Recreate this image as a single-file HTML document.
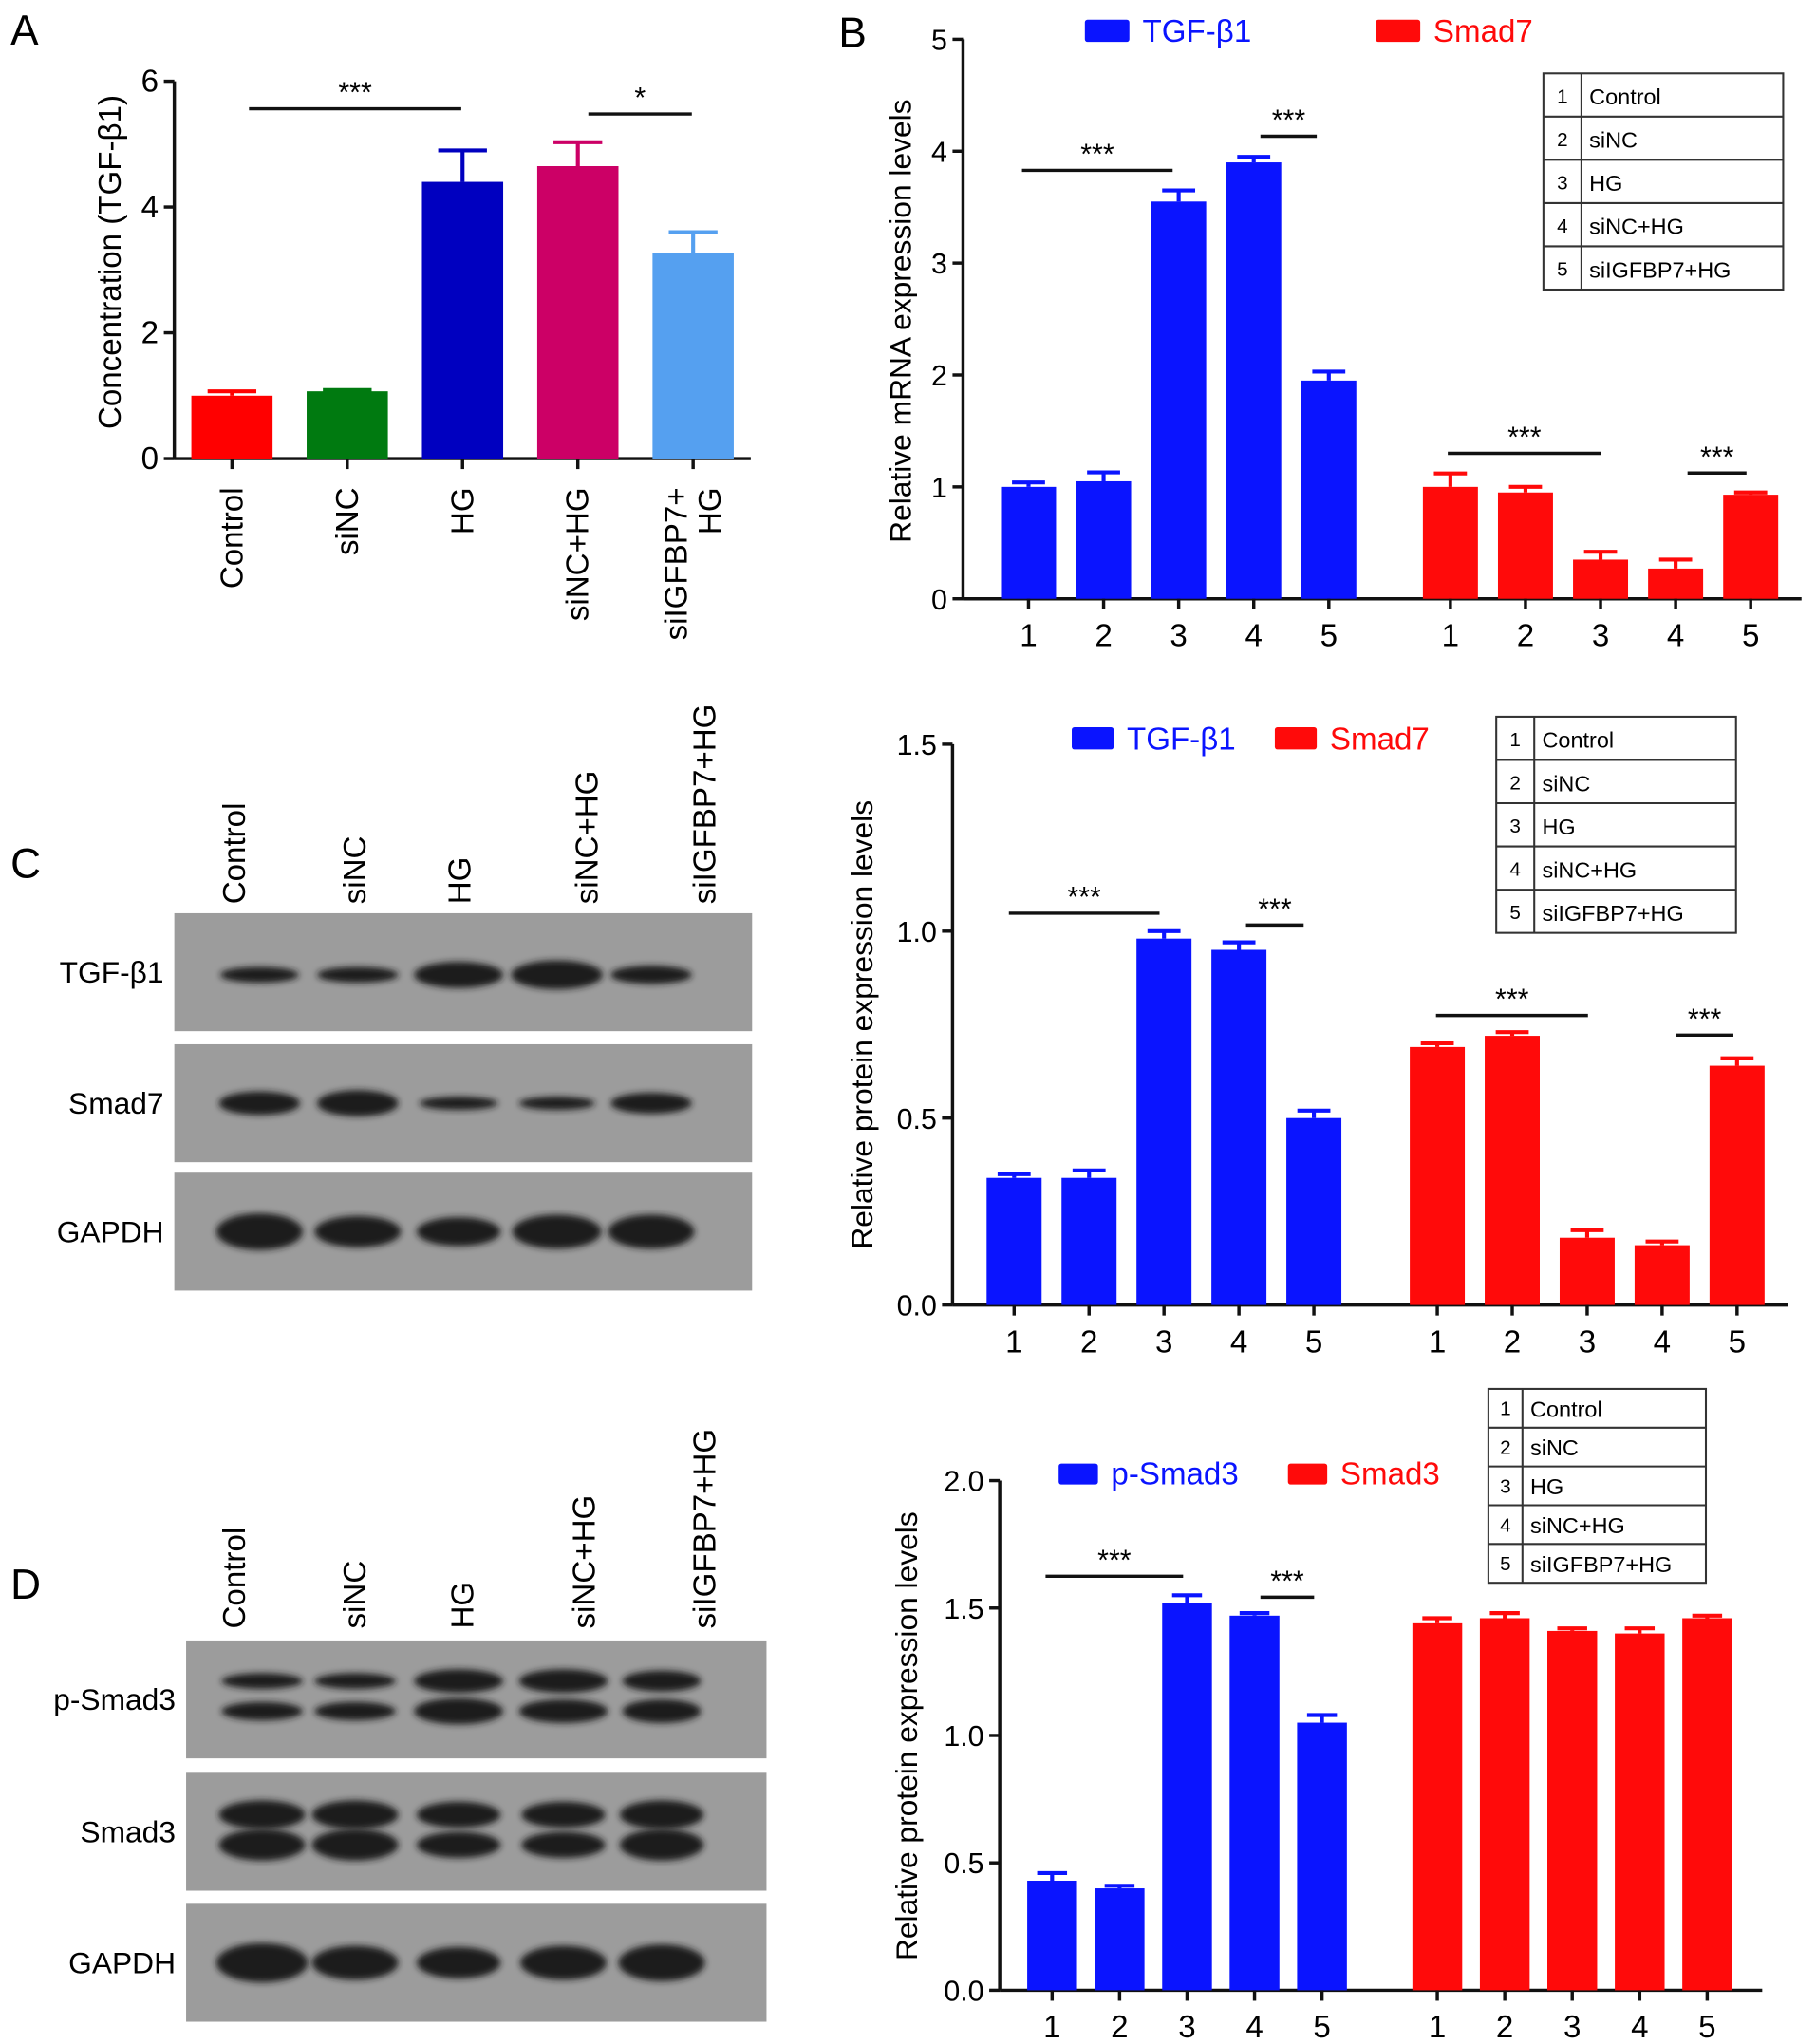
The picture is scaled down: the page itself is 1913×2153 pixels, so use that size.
<!DOCTYPE html>
<html><head><meta charset="utf-8"><style>
html,body{margin:0;padding:0;background:#fff;}
svg{display:block;font-family:"Liberation Sans",Arial,sans-serif;}
</style></head><body>
<svg id="fig" width="1913" height="2153" viewBox="0 0 1386 1560" xmlns="http://www.w3.org/2000/svg">
<defs><filter id="blur" x="-20%" y="-50%" width="140%" height="200%"><feGaussianBlur stdDeviation="2.5"/></filter></defs>
<g id="root"></g>
</svg>
<script>
// Panel A data
const aCategories = ["Control","siNC","HG","siNC+HG","siIGFBP7+\nHG"];
const aValues = [1.0,1.07,4.4,4.65,3.27];
const aErrors = [0.07,0.02,0.5,0.38,0.33];
const aTicks = [0,2,4,6];
// Panel B data
const bTgf = [1.0,1.05,3.55,3.9,1.95];
const bTgfErr = [0.04,0.08,0.1,0.05,0.08];
const bSmad7 = [1.0,0.95,0.35,0.27,0.93];
const bSmad7Err = [0.12,0.05,0.07,0.08,0.02];
const bTicks = [0,1,2,3,4,5];
// Panel C chart data
const cTgf = [0.34,0.34,0.98,0.95,0.5];
const cTgfErr = [0.01,0.02,0.02,0.02,0.02];
const cSmad7 = [0.69,0.72,0.18,0.16,0.64];
const cSmad7Err = [0.01,0.01,0.02,0.01,0.02];
const cTicks = ["0.0","0.5","1.0","1.5"];
// Panel D chart data
const dPSmad3 = [0.43,0.4,1.52,1.47,1.05];
const dPSmad3Err = [0.03,0.01,0.03,0.01,0.03];
const dSmad3 = [1.44,1.46,1.41,1.4,1.46];
const dSmad3Err = [0.02,0.02,0.01,0.02,0.01];
const dTicks = ["0.0","0.5","1.0","1.5","2.0"];
const groupLabels = ["1","2","3","4","5"];
const tableRows = ["Control","siNC","HG","siNC+HG","siIGFBP7+HG"];

const NS="http://www.w3.org/2000/svg";
const root=document.getElementById('root');
function mk(tag,attrs,parent,text){const e=document.createElementNS(NS,tag);for(const k in attrs)e.setAttribute(k,attrs[k]);if(text!==undefined)e.textContent=text;(parent||root).appendChild(e);return e;}

function letter(t,x,y){const e=mk('text',{x:x,y:y,'font-size':32},root,t);

}
letter('A',8,34);letter('B',640,36);letter('C',8,670);letter('D',8,1220);

function sig(g,x1,x2,y,stars){
 const l=mk('line',{x1:x1,x2:x2,y1:y,y2:y,stroke:'#111','stroke-width':2.5},g);
 
 
 const t=mk('text',{x:(x1+x2)/2,y:y-5,'text-anchor':'middle','font-size':22},g,stars);
 
 
}
function bar(g,cx,w,val,err,y,color,name){
 const y0=y(0),yv=y(val),ye=y(val+err);
 const eb=mk('line',{x1:cx,x2:cx,y1:yv,y2:ye,stroke:color,'stroke-width':3},g);
 
 
 const cap=mk('line',{x1:cx-w*0.3,x2:cx+w*0.3,y1:ye,y2:ye,stroke:color,'stroke-width':3},g);
 
 
 const r=mk('rect',{x:cx-w/2,y:yv,width:w,height:y0-yv,fill:color},g);
 
 
}
function yAxis(g,x,yTop,yBot,ticks,y,fs){
 const a=mk('line',{x1:x,x2:x,y1:yTop,y2:yBot,stroke:'#111','stroke-width':2.5},g);
 
 
 ticks.forEach(t=>{const v=parseFloat(t);const yy=y(v);
  mk('line',{x1:x-8,x2:x,y1:yy,y2:yy,stroke:'#111','stroke-width':2.5},g);
  const tl=mk('text',{x:x-12,y:yy+8,'text-anchor':'end','font-size':fs},g,t);
  
  });
}
function yTitle(g,x,cy,txt,fs){const t=mk('text',{x:x,y:cy,'text-anchor':'middle','font-size':fs,transform:`rotate(-90 ${x} ${cy})`},g,txt);
 
 }
function legend(g,x1,y1,name1,x2,name2,w,h,fs){
 [[x1,name1,'#0a14ff'],[x2,name2,'#ff0a0a']].forEach(([x,n,c])=>{
  const r=mk('rect',{x:x,y:y1,width:w,height:h,fill:c,rx:2},g);
  
  
  const t=mk('text',{x:x+w+10,y:y1+h,'font-size':fs,fill:c},g,n);
  
  });
}
function table(g,x,y,w,h,div,fs){
 const rh=h/5;
 const b=mk('rect',{x:x,y:y,width:w,height:h,fill:'#fff',stroke:'#333','stroke-width':1.5},g);
 
 
 mk('line',{x1:x+div,x2:x+div,y1:y,y2:y+h,stroke:'#333','stroke-width':1.5},g);
 tableRows.forEach((r,i)=>{
  if(i>0)mk('line',{x1:x,x2:x+w,y1:y+rh*i,y2:y+rh*i,stroke:'#333','stroke-width':1.5},g);
  mk('text',{x:x+div/2,y:y+rh*i+rh*0.68,'text-anchor':'middle','font-size':fs-2},g,String(i+1));
  const t=mk('text',{x:x+div+6,y:y+rh*i+rh*0.72,'font-size':fs},g,r);
  
  
 });
}
function groupedChart(opts){
 const g=mk('g',{});
 
 
 const y=v=>opts.yBot-(v/opts.yMax)*(opts.yBot-opts.yTop);
 yAxis(g,opts.x0,opts.yTop,opts.yBot,opts.ticks,y,22);
 const xa=mk('line',{x1:opts.x0,x2:opts.x1,y1:opts.yBot,y2:opts.yBot,stroke:'#111','stroke-width':2.5},g);
 
 
 const xc=(gi,i)=>opts.gStart[gi]+i*opts.step;
 [[opts.s1,opts.e1,'#0a14ff',opts.n1],[opts.s2,opts.e2,'#ff0a0a',opts.n2]].forEach(([vals,errs,c,n],gi)=>{
  vals.forEach((v,i)=>{const cx=xc(gi,i);
   bar(g,cx,opts.bw,v,errs[i],y,c,'bar-'+n+'-'+(i+1));
   mk('line',{x1:cx,x2:cx,y1:opts.yBot,y2:opts.yBot+8,stroke:'#111','stroke-width':2.5},g);
   const t=mk('text',{x:cx,y:opts.yBot+36,'text-anchor':'middle','font-size':24},g,groupLabels[i]);
   
   
  });
 });
 return {g,y};
}

// Panel A
(function(){
 const g=mk('g',{});
 
 
 const yTop=62,yBot=350;
 const y=v=>yBot-v/6*(yBot-yTop);
 yAxis(g,133,yTop,yBot,aTicks.map(String),y,24);
 const xa=mk('line',{x1:133,x2:573,y1:yBot,y2:yBot,stroke:'#111','stroke-width':2.5},g);
 
 
 const colors=['#ff0000','#007a10','#0000c0','#cc0066','#55a0f0'];
 aValues.forEach((v,i)=>{const cx=177+i*88;
  bar(g,cx,62,v,aErrors[i],y,colors[i],'bar-'+aCategories[i].replace(/\W+/g,'').toLowerCase());
  mk('line',{x1:cx,x2:cx,y1:yBot,y2:yBot+8,stroke:'#111','stroke-width':2.5},g);
  const lines=aCategories[i].split('\n');
  lines.forEach((ln,j)=>{const lx=cx+(j-(lines.length-1)/2)*26+8;
   const t=mk('text',{x:lx,y:372,'text-anchor':'end','font-size':24,transform:`rotate(-90 ${lx} 372)`},g,ln);
   
   });
 });
 yTitle(g,92,200,'Concentration (TGF-β1)',24);
 sig(g,190,352,83,'***');sig(g,449,528,87,'*');
})();

// Panel B
(function(){
 const c=groupedChart({name:'panel-b-chart',x0:735,x1:1375,yTop:30,yBot:457,yMax:5,ticks:bTicks.map(String),
  s1:bTgf,e1:bTgfErr,s2:bSmad7,e2:bSmad7Err,n1:'tgf',n2:'smad7',gStart:[785,1107],step:57.3,bw:42});
 yTitle(c.g,695,245,'Relative mRNA expression levels',23);
 legend(c.g,828,15,'TGF-β1',1050,'Smad7',34,17,24);
 table(c.g,1178,56,183,165,29,17);
 sig(c.g,780,895,130,'***');sig(c.g,962,1005,104,'***');sig(c.g,1105,1222,346,'***');sig(c.g,1288,1333,361,'***');
})();

// Panel C chart
(function(){
 const c=groupedChart({name:'panel-c-chart',x0:727,x1:1365,yTop:568,yBot:996,yMax:1.5,ticks:cTicks,
  s1:cTgf,e1:cTgfErr,s2:cSmad7,e2:cSmad7Err,n1:'tgf',n2:'smad7',gStart:[774,1097],step:57.2,bw:42});
 yTitle(c.g,666,782,'Relative protein expression levels',23);
 legend(c.g,818,555,'TGF-β1',973,'Smad7',32,17,24);
 table(c.g,1142,547,183,165,29,17);
 sig(c.g,770,885,697,'***');sig(c.g,951,995,706,'***');sig(c.g,1096,1212,775,'***');sig(c.g,1279,1323,790,'***');
})();

// Panel D chart
(function(){
 const c=groupedChart({name:'panel-d-chart',x0:763,x1:1345,yTop:1130,yBot:1519,yMax:2,ticks:dTicks,
  s1:dPSmad3,e1:dPSmad3Err,s2:dSmad3,e2:dSmad3Err,n1:'p-smad3',n2:'smad3',gStart:[803,1097],step:51.5,bw:38});
 yTitle(c.g,700,1325,'Relative protein expression levels',23);
 legend(c.g,808,1117,'p-Smad3',983,'Smad3',30,16,24);
 table(c.g,1136,1060,166,148,26,17);
 sig(c.g,798,903,1203,'***');sig(c.g,962,1003,1219,'***');
})();

// Western blots
function blot(name,x,w,tops,h,rows,lanes,labelX,laneLabels,labelBottom){
 const g=mk('g',{});
 
 
 laneLabels.forEach((l,i)=>{const lx=labelX[i];
  const t=mk('text',{x:lx,y:labelBottom,'font-size':24,transform:`rotate(-90 ${lx} ${labelBottom})`},g,l);
  
  });
 rows.forEach((r,ri)=>{
  const p=mk('rect',{x:x,y:tops[ri],width:w,height:h,fill:'#9c9c9c'},g);
  
  
  const t=mk('text',{x:x-8,y:tops[ri]+h/2+8,'text-anchor':'end','font-size':23},g,r.name);
  
  
  r.bands.forEach(b=>{lanes.forEach((lx,i)=>{
   mk('ellipse',{cx:lx,cy:tops[ri]+b.dy,rx:b.rx[i],ry:b.ry[i],fill:'#1e1e1e',filter:'url(#blur)'},g);});});
 });
}
const wLabels=["Control","siNC","HG","siNC+HG","siIGFBP7+HG"];
blot('panel-c-blot',133,441,[697,797,895],90,[
 {name:'TGF-β1',bands:[{dy:47,rx:[30,31,34,35,31],ry:[6,6,10,11,7]}]},
 {name:'Smad7',bands:[{dy:45,rx:[31,31,30,29,31],ry:[9,10,5,5,8]}]},
 {name:'GAPDH',bands:[{dy:45,rx:[33,33,32,34,33],ry:[14,12,11,13,13]}]}
],[198,273,350,425,497],[187,279,359,456,546],wLabels,690);
blot('panel-d-blot',142,443,[1252,1353,1453],90,[
 {name:'p-Smad3',bands:[{dy:31,rx:[31,31,34,34,30],ry:[6,6,9,9,8]},{dy:54,rx:[31,31,34,34,30],ry:[7,7,10,9,9]}]},
 {name:'Smad3',bands:[{dy:32,rx:[33,33,32,32,32],ry:[11,11,10,10,11]},{dy:55,rx:[33,33,32,32,32],ry:[12,12,10,10,12]}]},
 {name:'GAPDH',bands:[{dy:45,rx:[35,33,32,33,33],ry:[15,13,12,13,14]}]}
],[200,271,350,430,505],[187,279,361,454,546],wLabels,1243);
</script>
</body></html>
